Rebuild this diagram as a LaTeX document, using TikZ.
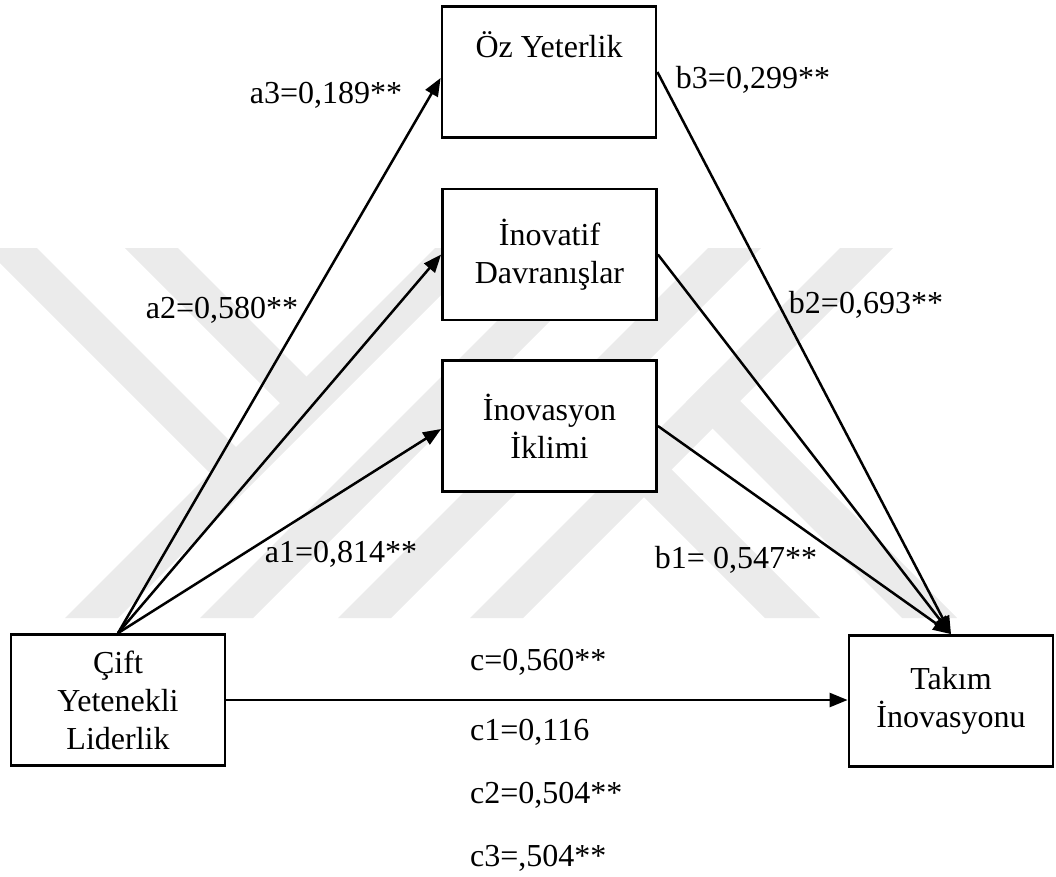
\documentclass[tikz,border=0pt]{standalone}
\usepackage{fontspec}
\setmainfont{Liberation Serif}
\usetikzlibrary{arrows.meta}
\begin{document}
\begin{tikzpicture}[x=1pt,y=-1pt,
  txt/.style={font=\fontsize{32}{38}\selectfont},
  box/.style={txt, draw, line width=2.8pt, fill=white, minimum width=214pt,
    minimum height=131pt, inner sep=0pt, align=center},
  lbl/.style={txt, inner sep=0pt, anchor=base},
  clbl/.style={txt, inner sep=0pt, anchor=base west},
  link/.style={line width=2.5pt, -{Triangle[length=18pt,width=14pt]}},
  wm/.style={fill=black!8}
]
\useasboundingbox (0,0) rectangle (1056,876);

% background emblem: four long rising stripes, two short falling
% stripes at the top left and two at the bottom right
\begin{scope}
  \clip (0,248) rectangle (1056,618);
  \foreach \b in {435,570,708,840}
    \fill[wm] (\b,248) -- ++(53,0) -- ++(-370,370) -- ++(-53,0) -- cycle;
  \fill[wm] (-15,248) -- (37,248) -- (262,473) -- (236,499) -- cycle;
  \fill[wm] (125,248) -- (178,248) -- (332.5,402.5) -- (306,429) -- cycle;
  \fill[wm] (765,618) -- (820,618) -- (645,443) -- (617.5,470.5) -- cycle;
  \fill[wm] (902,618) -- (957,618) -- (713.5,374.5) -- (686,402) -- cycle;
\end{scope}

% variables
\node[box] (oz)    at (549,72)    {};
\node[lbl] (oztxt) at (549,57)    {Öz Yeterlik};
\node[box] (inov)  at (549.5,254.5) {İnovatif\\Davranışlar};
\node[box] (iklim) at (549.5,426) {İnovasyon\\İklimi};
\node[box] (cift)  at (118,700)   {Çift\\Yetenekli\\Liderlik};
\node[box, minimum width=204pt] (takim) at (951,701) {Takım\\İnovasyonu};

% paths
\draw[link] (cift.north) -- ([yshift=-6pt]oz.west);
\draw[link] (cift.north) -- (inov.west);
\draw[link] (cift.north) -- ([yshift=-3pt]iklim.west);
\draw[link] (oz.east) -- (takim.north);
\draw[link] (inov.east) -- (takim.north);
\draw[link] (iklim.east) -- (takim.north);
\draw[link] (cift.east) -- (cift.east -| takim.west);

% coefficients
\node[lbl] (la3) at (326,103) {a3=0,189**};
\node[lbl] (lb3) at (753,88)  {b3=0,299**};
\node[lbl] (la2) at (222,318) {a2=0,580**};
\node[lbl] (lb2) at (866,313) {b2=0,693**};
\node[lbl] (la1) at (341,562) {a1=0,814**};
\node[lbl] (lb1) at (736,568) {b1= 0,547**};
\node[clbl] (lc)  at (470,670) {c=0,560**};
\node[clbl] (lc1) at (470,740) {c1=0,116};
\node[clbl] (lc2) at (470,803) {c2=0,504**};
\node[clbl] (lc3) at (470,866) {c3=,504**};
\end{tikzpicture}
\end{document}
